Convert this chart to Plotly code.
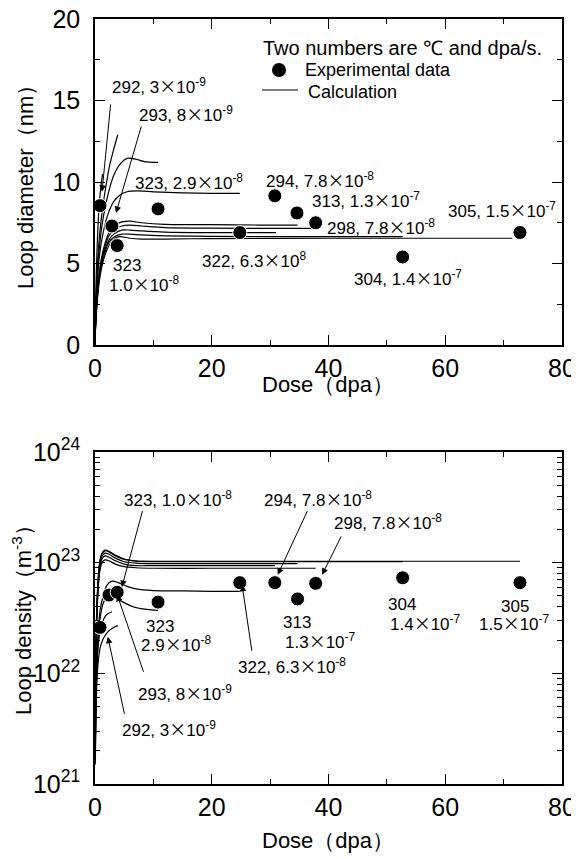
import plotly.graph_objects as go

FONT = "Liberation Sans, Arial, sans-serif"
X = "<span style='font-family:Noto Sans CJK JP'>×</span>"

# ---------------- data: experimental ----------------
dose_diam_exp = [0.86, 2.9, 3.8, 10.8, 24.8, 30.8, 34.6, 37.8, 52.7, 72.8]
diam_exp = [8.55, 7.3, 6.1, 8.35, 6.9, 9.15, 8.1, 7.5, 5.4, 6.9]

dose_dens_exp = [0.86, 2.4, 3.8, 10.8, 24.8, 30.8, 34.7, 37.8, 52.7, 72.8]
dens_exp = [2.6e22, 5.1e22, 5.4e22, 4.4e22, 6.6e22, 6.6e22, 4.7e22, 6.5e22, 7.3e22, 6.6e22]

# ---------------- data: calculated loop diameter (nm) ----------------
c292_dx = [0, 0.1, 0.25, 0.45, 0.7, 1.0, 1.3]
c292_dy = [0, 2.5, 4.8, 6.8, 8.5, 9.7, 10.5]
c293_dx = [0, 0.15, 0.4, 0.8, 1.3, 1.9, 2.5, 3.2, 3.9]
c293_dy = [0, 2.5, 4.8, 6.8, 8.4, 9.8, 11.0, 12.0, 12.9]
c323b_dx = [0, 0.15, 0.4, 0.8, 1.4, 2.2, 3.2, 4.3, 5.5, 7.0, 8.5, 10.8]
c323b_dy = [0, 2.2, 4.2, 6.2, 7.8, 9.2, 10.4, 11.1, 11.45, 11.4, 11.25, 11.2]
c322_dx = [0, 0.15, 0.4, 0.8, 1.4, 2.2, 3.2, 4.3, 5.5, 7.2, 10, 15, 20, 24.8]
c322_dy = [0, 2.0, 3.9, 5.6, 6.9, 8.0, 8.8, 9.2, 9.4, 9.45, 9.4, 9.33, 9.3, 9.3]
c313_dx = [0, 0.1, 0.3, 0.6, 1.0, 1.6, 2.4, 3.4, 4.6, 6, 8, 12, 20, 28, 34.7]
c313_dy = [0, 1.3, 2.7, 4.0, 5.1, 6.1, 6.9, 7.35, 7.55, 7.6, 7.5, 7.4, 7.38, 7.36, 7.35]
c298_dx = [0, 0.1, 0.3, 0.6, 1.0, 1.6, 2.4, 3.4, 4.6, 6, 8, 12, 20, 30, 37.8]
c298_dy = [0, 1.3, 2.6, 3.9, 5.0, 5.9, 6.7, 7.1, 7.3, 7.35, 7.3, 7.2, 7.17, 7.15, 7.15]
c294_dx = [0, 0.1, 0.3, 0.6, 1.0, 1.6, 2.4, 3.4, 4.6, 6, 8, 12, 20, 31]
c294_dy = [0, 1.2, 2.5, 3.8, 4.8, 5.7, 6.45, 6.85, 7.05, 7.05, 7.0, 6.93, 6.9, 6.9]
c304_dx = [0, 0.1, 0.3, 0.6, 1.0, 1.6, 2.4, 3.4, 4.6, 6, 8, 12, 20, 35, 52.7]
c304_dy = [0, 1.2, 2.4, 3.7, 4.7, 5.6, 6.3, 6.65, 6.8, 6.8, 6.75, 6.7, 6.67, 6.65, 6.65]
c305_dx = [0, 0.1, 0.3, 0.6, 1.0, 1.6, 2.4, 3.4, 4.3, 6, 8, 12, 20, 40, 71.5]
c305_dy = [0, 1.1, 2.3, 3.5, 4.5, 5.4, 6.1, 6.55, 6.65, 6.55, 6.5, 6.5, 6.53, 6.55, 6.55]

# ---------------- data: calculated loop density (m^-3) ----------------
n305_x = [0.03, 0.1, 0.25, 0.5, 0.8, 1.2, 1.7, 2.4, 3.5, 5, 7, 10, 20, 40, 60, 72.8]
n305_y = [2e21, 1e22, 3e22, 6.5e22, 1.0e23, 1.22e23, 1.3e23, 1.27e23, 1.17e23, 1.08e23, 1.04e23,
          1.03e23, 1.03e23, 1.03e23, 1.03e23, 1.03e23]
n304_x = [0.03, 0.1, 0.25, 0.5, 0.8, 1.2, 1.7, 2.4, 3.5, 5, 7, 10, 20, 40, 52.7]
n304_y = [2e21, 1e22, 3e22, 6.4e22, 9.8e22, 1.2e23, 1.28e23, 1.25e23, 1.15e23, 1.07e23, 1.03e23,
          1.02e23, 1.02e23, 1.02e23, 1.02e23]
n313_x = [0.03, 0.1, 0.25, 0.5, 0.8, 1.2, 1.7, 2.4, 3.5, 5, 7, 10, 20, 34.7]
n313_y = [2e21, 9e21, 2.8e22, 6e22, 9.3e22, 1.14e23, 1.22e23, 1.19e23, 1.1e23, 1.02e23, 0.99e23,
          0.98e23, 0.98e23, 0.98e23]
n294_x = [0.03, 0.1, 0.25, 0.5, 0.8, 1.2, 1.7, 2.4, 3.5, 5, 7, 10, 20, 30.8]
n294_y = [2e21, 8.5e21, 2.6e22, 5.6e22, 8.8e22, 1.08e23, 1.15e23, 1.12e23, 1.04e23, 0.97e23, 0.94e23,
          0.94e23, 0.94e23, 0.94e23]
n298_x = [0.03, 0.1, 0.25, 0.5, 0.8, 1.2, 1.7, 2.4, 3.5, 5, 7, 10, 20, 37.8]
n298_y = [2e21, 8e21, 2.4e22, 5.2e22, 8.2e22, 1.0e23, 1.06e23, 1.04e23, 0.97e23, 0.92e23, 0.9e23,
          0.89e23, 0.89e23, 0.89e23]
n322_x = [0.05, 0.2, 0.5, 0.9, 1.4, 2.0, 2.9, 4.0, 5.5, 7, 10, 15, 20, 24.8]
n322_y = [2e21, 8e21, 2.2e22, 3.8e22, 5.0e22, 6.2e22, 6.8e22, 6.6e22, 6.1e22, 5.8e22, 5.6e22,
          5.55e22, 5.5e22, 5.5e22]
n323b_x = [0.05, 0.2, 0.5, 0.9, 1.4, 2.0, 2.6, 3.5, 4.8, 6.5, 8.5, 10.8]
n323b_y = [2e21, 7e21, 1.8e22, 3.2e22, 4.3e22, 4.9e22, 5.1e22, 4.8e22, 4.4e22, 4.0e22, 3.8e22, 3.7e22]
n293_x = [0.05, 0.2, 0.4, 0.7, 1.0, 1.5, 2.0, 2.9]
n293_y = [2e21, 7e21, 1.4e22, 2.1e22, 2.6e22, 3.1e22, 3.4e22, 3.6e22]
n292_x = [0.05, 0.2, 0.4, 0.7, 1.0, 1.5, 2.0, 2.5, 3.2, 3.9]
n292_y = [1.5e21, 5e21, 1e22, 1.5e22, 1.8e22, 2.1e22, 2.3e22, 2.45e22, 2.6e22, 2.7e22]

diam_curves = [(c292_dx, c292_dy), (c293_dx, c293_dy), (c323b_dx, c323b_dy), (c322_dx, c322_dy),
               (c313_dx, c313_dy), (c298_dx, c298_dy), (c294_dx, c294_dy), (c304_dx, c304_dy),
               (c305_dx, c305_dy)]
dens_curves = [(n305_x, n305_y), (n304_x, n304_y), (n313_x, n313_y), (n294_x, n294_y),
               (n298_x, n298_y), (n322_x, n322_y), (n323b_x, n323b_y), (n293_x, n293_y),
               (n292_x, n292_y)]

x_ticks = [0, 20, 40, 60, 80]
diam_ticks = [0, 5, 10, 15, 20]
dens_ticks = [1e21, 1e22, 1e23, 1e24]
dens_ticktext = ["10<sup>21</sup>", "10<sup>22</sup>", "10<sup>23</sup>", "10<sup>24</sup>"]
dens_minor = [float(k) * 10.0 ** e for e in (21, 22, 23) for k in range(2, 10)]

# page has an 8px body margin: figure sized so it fits the window
W, H, OFF = 571, 851, 8
def px(xw):
    return (xw - OFF) / W
def py(yw):
    return 1 - (yw - OFF) / H

fig = go.Figure()
for xs, ys in diam_curves:
    fig.add_trace(go.Scatter(x=xs, y=ys, mode="lines", xaxis="x", yaxis="y", showlegend=False,
                             line=dict(color="black", width=1.2, shape="spline", smoothing=0.7)))
for xs, ys in dens_curves:
    fig.add_trace(go.Scatter(x=xs, y=ys, mode="lines", xaxis="x2", yaxis="y2", showlegend=False,
                             line=dict(color="black", width=1.2, shape="spline", smoothing=0.7)))
fig.add_trace(go.Scatter(x=dose_diam_exp, y=diam_exp, mode="markers", xaxis="x", yaxis="y",
                         marker=dict(color="black", size=14, line=dict(color="white", width=1)),
                         showlegend=False, cliponaxis=False))
fig.add_trace(go.Scatter(x=dose_dens_exp, y=dens_exp, mode="markers", xaxis="x2", yaxis="y2",
                         marker=dict(color="black", size=14, line=dict(color="white", width=1)),
                         showlegend=False, cliponaxis=False))

ann = []
def txt(s, x, y, xr="x", yr="y", size=17):
    ann.append(dict(text=s, x=x, y=y, xref=xr, yref=yr, showarrow=False,
                    font=dict(family=FONT, size=size, color="black"),
                    xanchor="center", yanchor="middle"))

def arrow(xt, yt, xa, ya, xr="x", yr="y"):
    ann.append(dict(text="", x=xt, y=yt, ax=xa, ay=ya, xref=xr, yref=yr, axref=xr, ayref=yr,
                    showarrow=True, arrowhead=2, arrowsize=1.3, arrowwidth=1, arrowcolor="black"))

# top panel labels
txt("292, 3" + X + "10<sup>-9</sup>", 10.9, 15.9)
txt("293, 8" + X + "10<sup>-9</sup>", 15.6, 14.2)
txt("323, 2.9" + X + "10<sup>-8</sup>", 16.1, 10.05)
txt("294, 7.8" + X + "10<sup>-8</sup>", 38.5, 10.15)
txt("313, 1.3" + X + "10<sup>-7</sup>", 46.4, 8.95)
txt("298, 7.8" + X + "10<sup>-8</sup>", 49.0, 7.3)
txt("305, 1.5" + X + "10<sup>-7</sup>", 69.7, 8.3)
txt("304, 1.4" + X + "10<sup>-7</sup>", 53.6, 4.15)
txt("322, 6.3" + X + "10<sup>8</sup>", 27.2, 5.25)
txt("323", 5.5, 4.9)
txt("1.0" + X + "10<sup>-8</sup>", 8.4, 3.75)
arrow(1.2, 9.4, 2.7, 14.85)
arrow(3.6, 8.1, 8.0, 13.5)

# bottom panel labels (log10 y)
txt("323, 1.0" + X + "10<sup>-8</sup>", 14.2, 23.58, "x2", "y2")
txt("294, 7.8" + X + "10<sup>-8</sup>", 38.2, 23.58, "x2", "y2")
txt("298, 7.8" + X + "10<sup>-8</sup>", 50.2, 23.37, "x2", "y2")
txt("323", 11.1, 22.42, "x2", "y2")
txt("2.9" + X + "10<sup>-8</sup>", 13.9, 22.27, "x2", "y2")
txt("322, 6.3" + X + "10<sup>-8</sup>", 33.7, 22.07, "x2", "y2")
txt("293, 8" + X + "10<sup>-9</sup>", 15.4, 21.83, "x2", "y2")
txt("292, 3" + X + "10<sup>-9</sup>", 12.7, 21.50, "x2", "y2")
txt("313", 34.6, 22.46, "x2", "y2")
txt("1.3" + X + "10<sup>-7</sup>", 38.7, 22.30, "x2", "y2")
txt("304", 52.6, 22.62, "x2", "y2")
txt("1.4" + X + "10<sup>-7</sup>", 56.7, 22.46, "x2", "y2")
txt("305", 71.9, 22.60, "x2", "y2")
txt("1.5" + X + "10<sup>-7</sup>", 71.9, 22.46, "x2", "y2")
arrow(4.6, 22.78, 8.2, 23.48, "x2", "y2")
arrow(31.3, 22.89, 36.5, 23.48, "x2", "y2")
arrow(38.9, 22.89, 42.3, 23.25, "x2", "y2")
arrow(25.2, 22.80, 26.9, 22.19, "x2", "y2")
arrow(3.8, 22.71, 8.4, 22.0, "x2", "y2")
arrow(2.2, 22.33, 5.1, 21.62, "x2", "y2")

# legend drawn by hand (title, marker + text, line + text)
def ptxt(s, xw, yw, size, anchor="left", ang=0):
    ann.append(dict(text=s, x=px(xw), y=py(yw), xref="paper", yref="paper", showarrow=False,
                    textangle=ang, font=dict(family=FONT, size=size, color="black"),
                    xanchor=anchor, yanchor="middle"))

ptxt("Two numbers are ℃ and dpa/s.", 261, 48, 20)
ptxt("Experimental data", 303, 70, 18)
ptxt("Calculation", 306, 92, 18)

shapes = [
    dict(type="circle", xref="paper", yref="paper", xsizemode="pixel", ysizemode="pixel",
         xanchor=px(279), yanchor=py(70), x0=-7, x1=7, y0=-7, y1=7,
         fillcolor="black", line=dict(color="black", width=0)),
    dict(type="line", xref="paper", yref="paper", x0=px(262), x1=px(298), y0=py(90), y1=py(90),
         line=dict(color="black", width=1.2)),
]

# axis titles
ptxt("Loop diameter（nm）", 25, 182, 22, "center", -90)
ptxt("Dose（dpa）", 328, 385, 22, "center")
ptxt("Loop density（m<sup>-3</sup>）", 22, 615, 22, "center", -90)
ptxt("Dose（dpa）", 328, 840, 22, "center")

xdom = [px(95), px(562)]
axis_common = dict(showline=True, linecolor="black", linewidth=1.5, mirror="ticks",
                   ticks="inside", ticklen=10, tickwidth=1, tickcolor="black",
                   showgrid=False, zeroline=False, automargin=False, ticklabeloverflow="allow",
                   tickfont=dict(family=FONT, size=25, color="black"))

fig.update_layout(
    width=W, height=H,
    margin=dict(l=0, r=0, t=0, b=0, autoexpand=False),
    paper_bgcolor="white", plot_bgcolor="white",
    font=dict(family=FONT, color="black"),
    showlegend=False,
    annotations=ann, shapes=shapes,
    xaxis=dict(domain=xdom, anchor="y", range=[0, 80], tickvals=x_ticks,
               minor=dict(dtick=10, ticks="inside", ticklen=5, tickcolor="black"),
               ticklabelstandoff=0, **axis_common),
    yaxis=dict(domain=[py(345), py(19)], anchor="x", range=[0, 20], tickvals=diam_ticks,
               minor=dict(dtick=2.5, ticks="inside", ticklen=5, tickcolor="black"),
               ticklabelstandoff=8, **axis_common),
    xaxis2=dict(domain=xdom, anchor="y2", range=[0, 80], tickvals=x_ticks,
                minor=dict(dtick=10, ticks="inside", ticklen=5, tickcolor="black"),
                ticklabelstandoff=0, **axis_common),
    yaxis2=dict(domain=[py(784), py(452)], anchor="x2", type="log", range=[21, 24],
                tickvals=dens_ticks, ticktext=dens_ticktext,
                minor=dict(tickvals=dens_minor, ticks="inside", ticklen=5, tickcolor="black"),
                ticklabelstandoff=8, **axis_common),
)

fig.write_html("out.html")
